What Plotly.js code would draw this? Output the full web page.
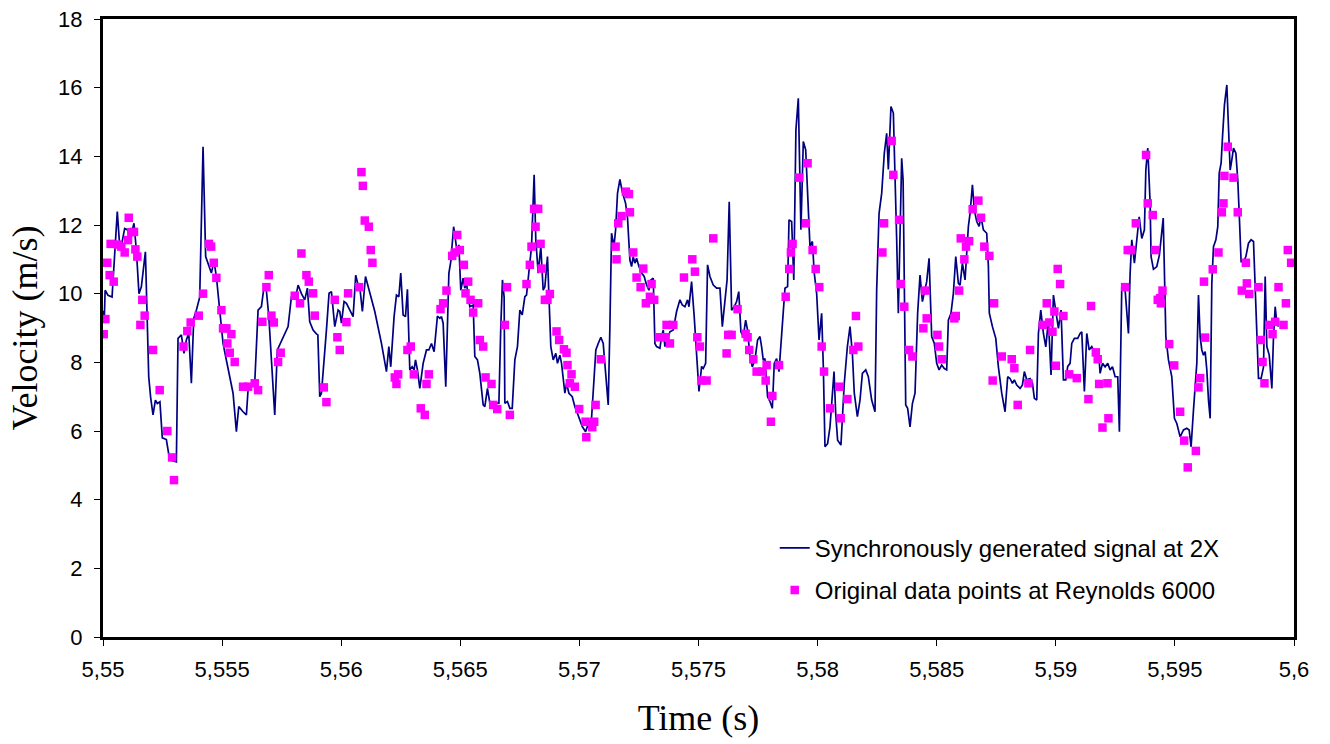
<!DOCTYPE html>
<html>
<head>
<meta charset="utf-8">
<script src="https://cdn.plot.ly/plotly-3.0.1.min.js"></script>
<style>
html,body{margin:0;padding:0;background:#fff;}
#chart{width:1330px;height:744px;}
</style>
</head>
<body>
<div id="chart"></div>
<script>
// Synchronously generated signal at 2X (time in s, velocity in m/s)
const signalTime = [
5.55000,5.55005,5.55009,5.55021,5.55038,5.55060,5.55070,5.55080,5.55091,5.55105,5.55112,5.55130,5.55140,5.55151,5.55161,5.55178,5.55192,5.55200,5.55210,5.55220,
5.55228,5.55239,5.55249,5.55266,5.55280,5.55308,5.55315,5.55329,5.55340,5.55350,5.55360,5.55371,5.55381,5.55392,5.55406,5.55420,5.55431,5.55448,5.55455,5.55466,
5.55476,5.55490,5.55504,5.55518,5.55532,5.55546,5.55560,5.55570,5.55588,5.55602,5.55609,5.55623,5.55637,5.55651,5.55665,5.55676,5.55683,5.55696,5.55721,5.55732,
5.55756,5.55777,5.55791,5.55812,5.55819,5.55833,5.55847,5.55858,5.55868,5.55882,5.55896,5.55902,5.55910,5.55917,5.55938,5.55949,5.55959,5.55973,5.55987,5.55994,
5.56001,5.56012,5.56022,5.56036,5.56050,5.56061,5.56071,5.56078,5.56089,5.56102,5.56141,5.56169,5.56190,5.56200,5.56208,5.56222,5.56232,5.56242,5.56250,5.56260,
5.56270,5.56278,5.56288,5.56298,5.56306,5.56312,5.56320,5.56330,5.56344,5.56358,5.56368,5.56379,5.56390,5.56404,5.56414,5.56421,5.56428,5.56439,5.56452,5.56460,
5.56472,5.56480,5.56487,5.56494,5.56502,5.56512,5.56519,5.56526,5.56540,5.56554,5.56561,5.56572,5.56582,5.56596,5.56603,5.56614,5.56624,5.56645,5.56662,5.56670,
5.56677,5.56684,5.56687,5.56698,5.56708,5.56718,5.56729,5.56740,5.56750,5.56760,5.56771,5.56778,5.56785,5.56792,5.56799,5.56810,5.56817,5.56827,5.56838,5.56848,
5.56855,5.56866,5.56880,5.56890,5.56901,5.56908,5.56918,5.56925,5.56939,5.56946,5.56956,5.56970,5.56981,5.56992,5.57012,5.57026,5.57037,5.57051,5.57062,5.57069,
5.57079,5.57090,5.57100,5.57111,5.57121,5.57128,5.57135,5.57145,5.57152,5.57160,5.57170,5.57180,5.57194,5.57202,5.57212,5.57219,5.57226,5.57233,5.57240,5.57250,
5.57261,5.57272,5.57282,5.57292,5.57300,5.57310,5.57317,5.57324,5.57338,5.57345,5.57352,5.57359,5.57369,5.57380,5.57394,5.57408,5.57422,5.57432,5.57443,5.57454,
5.57460,5.57471,5.57482,5.57492,5.57502,5.57513,5.57520,5.57530,5.57538,5.57548,5.57562,5.57576,5.57590,5.57600,5.57611,5.57620,5.57629,5.57639,5.57650,5.57660,
5.57669,5.57678,5.57688,5.57698,5.57706,5.57716,5.57726,5.57737,5.57748,5.57758,5.57765,5.57772,5.57779,5.57790,5.57800,5.57810,5.57818,5.57828,5.57838,5.57846,
5.57856,5.57863,5.57874,5.57880,5.57891,5.57900,5.57909,5.57919,5.57930,5.57940,5.57950,5.57961,5.57968,5.57978,5.57986,5.57996,5.58006,5.58017,5.58024,5.58031,
5.58042,5.58052,5.58059,5.58069,5.58076,5.58084,5.58098,5.58112,5.58125,5.58136,5.58146,5.58154,5.58167,5.58178,5.58188,5.58202,5.58213,5.58227,5.58241,5.58248,
5.58258,5.58269,5.58280,5.58290,5.58297,5.58308,5.58318,5.58325,5.58332,5.58339,5.58346,5.58353,5.58359,5.58364,5.58370,5.58378,5.58388,5.58398,5.58409,5.58420,
5.58430,5.58440,5.58448,5.58458,5.58468,5.58479,5.58490,5.58500,5.58510,5.58521,5.58532,5.58542,5.58549,5.58560,5.58570,5.58580,5.58591,5.58598,5.58608,5.58619,
5.58626,5.58633,5.58640,5.58650,5.58658,5.58668,5.58678,5.58686,5.58696,5.58710,5.58717,5.58721,5.58734,5.58748,5.58759,5.58773,5.58787,5.58798,5.58808,5.58818,
5.58826,5.58836,5.58850,5.58860,5.58868,5.58878,5.58892,5.58902,5.58910,5.58920,5.58927,5.58937,5.58948,5.58958,5.58969,5.58980,5.58990,5.59000,5.59011,5.59022,
5.59032,5.59042,5.59050,5.59060,5.59067,5.59078,5.59092,5.59102,5.59109,5.59120,5.59130,5.59140,5.59151,5.59165,5.59179,5.59186,5.59196,5.59207,5.59218,5.59228,
5.59238,5.59249,5.59260,5.59267,5.59277,5.59291,5.59305,5.59312,5.59319,5.59330,5.59340,5.59350,5.59361,5.59372,5.59378,5.59386,5.59396,5.59400,5.59410,5.59424,
5.59435,5.59442,5.59451,5.59462,5.59473,5.59487,5.59498,5.59508,5.59522,5.59536,5.59550,5.59560,5.59568,5.59578,5.59585,5.59592,5.59599,5.59606,5.59613,5.59620,
5.59627,5.59634,5.59641,5.59648,5.59655,5.59662,5.59672,5.59680,5.59686,5.59694,5.59700,5.59708,5.59718,5.59725,5.59732,5.59739,5.59746,5.59756,5.59764,5.59770,
5.59778,5.59788,5.59798,5.59809,5.59820,5.59830,5.59837,5.59844,5.59851,5.59862,5.59872,5.59879,5.59886,5.59896,5.59907,5.59914,5.59921,5.59928,5.59935
];
const signalVelocity = [
9.5,9.15,10.1,9.95,9.9,12.39,11.4,11.5,11.9,11.85,11.56,12.05,11.27,10.0,10.2,11.22,7.58,6.98,6.47,6.9,
6.8,6.85,5.8,5.75,5.16,5.1,8.7,8.8,8.26,8.65,8.85,7.39,9.28,9.52,9.9,14.28,11.08,10.69,10.6,10.95,
10.5,9.52,8.55,8.06,7.58,7.1,5.98,6.71,6.56,6.47,7.2,7.3,7.4,9.52,9.62,10.2,10.3,9.35,6.47,8.36,
8.74,9.04,9.91,10.01,10.25,10.0,9.82,10.16,9.18,8.94,8.83,8.8,7.0,7.1,8.94,10.01,10.06,9.04,9.52,9.48,
9.14,9.77,9.72,9.52,9.33,10.54,10.25,10.2,9.48,10.5,9.48,8.55,7.73,8.46,7.87,9.33,9.96,9.91,10.6,9.38,
9.33,10.13,7.78,7.87,7.78,8.07,7.78,7.24,7.97,8.36,8.36,8.55,8.31,9.35,9.28,9.33,9.14,7.29,10.59,10.93,
11.95,11.56,11.18,11.42,10.1,10.45,10.16,10.3,9.62,9.67,8.17,8.07,7.68,6.76,6.71,7.24,6.81,6.81,6.81,9.04,
10.4,9.9,6.81,6.86,6.66,6.66,8.07,8.46,9.52,9.38,9.91,9.96,10.39,10.84,11.37,13.46,11.57,10.6,11.37,10.1,
10.2,11.08,8.46,8.07,8.26,7.97,8.21,7.97,7.1,7.39,7.1,7.0,6.71,6.51,6.13,5.98,6.2,6.37,7.68,8.36,
8.55,8.73,8.55,7.58,6.76,9.04,11.76,11.37,11.86,12.92,13.33,12.97,12.63,12.2,10.98,10.79,11.08,10.89,11.03,10.79,
10.6,10.5,10.25,10.1,10.4,10.45,8.55,8.46,8.41,8.75,8.94,8.46,8.7,8.89,8.94,9.48,9.82,9.67,9.62,9.82,
9.62,10.35,9.33,8.17,7.15,7.88,7.82,7.97,10.84,10.5,10.25,10.16,10.16,9.04,9.72,10.4,12.68,9.52,9.62,9.77,
10.06,8.89,8.75,9.23,8.94,8.16,7.87,8.07,8.65,8.75,8.45,8.06,8.11,7.0,6.86,6.66,7.97,8.11,7.73,8.55,
9.62,10.16,10.21,12.15,12.1,10.4,14.77,15.69,11.86,14.43,14.19,12.34,11.37,11.52,10.6,10.01,8.65,9.43,7.87,5.54,
5.63,6.12,6.9,7.73,6.51,5.73,5.59,7.39,8.46,9.04,8.26,7.1,6.42,6.9,7.68,7.78,7.58,6.9,6.56,10.1,
12.34,12.92,14.09,14.67,13.62,15.45,15.26,13.6,11.57,9.43,12.34,13.94,13.3,10.4,6.76,6.66,6.12,6.8,7.1,9.43,
10.54,9.77,10.01,10.35,11.03,8.75,8.55,7.97,7.78,7.92,7.82,7.78,9.23,9.43,10.01,11.08,10.3,10.25,10.89,10.4,
11.18,11.96,12.34,13.17,12.44,12.1,11.96,12.24,11.86,11.76,10.79,9.43,9.04,8.7,7.87,7.1,6.56,7.58,7.53,7.39,
7.49,7.34,7.24,7.34,7.73,7.49,7.53,7.39,6.95,6.9,8.84,9.52,8.84,8.45,9.23,7.63,9.96,9.43,8.99,9.52,
7.49,7.49,7.88,7.97,8.55,8.7,8.7,8.84,8.89,7.15,8.84,8.36,8.46,8.26,8.36,7.68,7.97,7.87,7.97,7.78,
7.87,7.58,7.58,5.98,10.2,10.1,8.84,10.59,11.57,10.89,11.66,12.24,11.61,11.86,13.6,14.24,12.64,11.08,10.71,10.79,
11.13,11.66,12.2,8.75,8.07,7.58,6.37,6.22,5.83,6.03,6.08,6.03,5.54,6.61,7.19,7.97,9.96,8.75,8.36,8.21,
8.31,7.78,6.9,6.37,10.3,11.37,11.57,11.95,13.51,13.8,14.58,15.5,16.08,15.06,13.6,13.9,14.24,14.09,13.31,12.34,
10.93,10.93,11.08,11.47,11.57,11.52,10.3,8.75,7.53,7.53,7.87,10.5,8.46,8.21,7.24,8.75,9.62,9.14,9.04
];

// Original data points at Reynolds 6000
const pointTime = [
5.55003,5.55010,5.55018,5.55028,5.55032,5.55045,5.55063,5.55077,5.55091,5.55105,5.55108,5.55119,5.55130,5.55136,5.55144,5.55157,5.55165,5.55175,5.55210,5.55238,
5.55270,5.55290,5.55298,5.55338,5.55354,5.55368,5.55402,5.55420,5.55445,5.55454,5.55465,5.55476,5.55497,5.55504,5.55518,5.55522,5.55532,5.55539,5.55553,5.55588,
5.55609,5.55637,5.55651,5.55669,5.55686,5.55696,5.55707,5.55717,5.55735,5.55746,5.55805,5.55827,5.55833,5.55854,5.55864,5.55882,5.55889,5.55927,5.55938,5.55973,
5.55984,5.55994,5.56022,5.56029,5.56075,5.56085,5.56091,5.56099,5.56116,5.56124,5.56131,5.56225,5.56232,5.56239,5.56278,5.56292,5.56305,5.56334,5.56351,5.56358,
5.56368,5.56417,5.56428,5.56442,5.56466,5.56477,5.56487,5.56498,5.56515,5.56522,5.56533,5.56543,5.56554,5.56575,5.56582,5.56596,5.56606,5.56631,5.56638,5.56655,
5.56687,5.56696,5.56708,5.56778,5.56792,5.56799,5.56810,5.56816,5.56827,5.56837,5.56841,5.56855,5.56866,5.56876,5.56904,5.56915,5.56935,5.56946,5.56950,5.56960,
5.56967,5.56981,5.56999,5.57026,5.57029,5.57054,5.57062,5.57068,5.57090,5.57152,5.57156,5.57163,5.57177,5.57195,5.57208,5.57212,5.57226,5.57240,5.57257,5.57268,
5.57279,5.57296,5.57303,5.57314,5.57334,5.57362,5.57366,5.57380,5.57394,5.57439,5.57474,5.57485,5.57495,5.57506,5.57513,5.57534,5.57562,5.57618,5.57625,5.57639,
5.57664,5.57698,5.57706,5.57713,5.57730,5.57744,5.57768,5.57782,5.57786,5.57804,5.57810,5.57838,5.57866,5.57881,5.57888,5.57895,5.57923,5.57951,5.57958,5.57979,
5.57992,5.58007,5.58017,5.58027,5.58052,5.58091,5.58097,5.58125,5.58150,5.58161,5.58171,5.58272,5.58279,5.58311,5.58318,5.58342,5.58349,5.58364,5.58384,5.58398,
5.58444,5.58451,5.58458,5.58503,5.58510,5.58521,5.58574,5.58580,5.58594,5.58601,5.58616,5.58623,5.58636,5.58651,5.58675,5.58686,5.58700,5.58721,5.58735,5.58741,
5.58773,5.58815,5.58826,5.58840,5.58885,5.58892,5.58945,5.58962,5.58973,5.58986,5.58994,5.59000,5.59008,5.59018,5.59032,5.59056,5.59088,5.59137,5.59148,5.59168,
5.59176,5.59182,5.59196,5.59217,5.59221,5.59291,5.59302,5.59316,5.59336,5.59379,5.59386,5.59407,5.59417,5.59428,5.59438,5.59441,5.59448,5.59476,5.59497,5.59522,
5.59539,5.59554,5.59588,5.59599,5.59606,5.59622,5.59627,5.59659,5.59683,5.59697,5.59704,5.59708,5.59722,5.59746,5.59764,5.59781,5.59798,5.59802,5.59812,5.59851,
5.59861,5.59868,5.59876,5.59896,5.59910,5.59921,5.59935,5.59956,5.59966,5.59974,5.59988
];
const pointVelocity = [
8.82,9.26,10.9,10.54,11.45,10.35,11.43,11.37,11.2,11.56,12.21,11.79,11.8,11.29,11.08,9.09,9.82,9.36,8.36,7.19,
6.0,5.23,4.57,8.46,8.91,9.16,9.36,10.0,11.45,11.37,10.9,10.46,9.52,8.99,8.99,8.55,8.28,8.82,8.01,7.29,
7.29,7.39,7.19,9.18,10.19,10.54,9.36,9.16,8.01,8.28,9.94,9.72,11.17,10.54,10.35,10.01,9.36,7.27,6.84,9.82,
8.73,8.36,9.17,10.01,10.19,13.54,13.14,12.13,11.95,11.27,10.9,7.56,7.37,7.65,8.36,8.46,7.65,6.66,6.47,7.37,
7.65,9.55,9.72,10.09,11.1,11.2,11.71,11.27,10.84,10.01,10.35,9.82,9.45,9.72,8.65,8.46,7.56,7.37,6.76,6.64,
9.09,10.19,6.47,10.28,10.84,11.37,12.47,11.95,12.47,11.45,10.73,9.82,9.82,9.99,8.9,8.65,8.38,8.28,7.92,7.39,
7.65,7.29,6.64,6.27,5.82,6.11,6.27,6.76,8.09,11.37,11.0,12.05,12.26,12.97,12.9,12.37,11.2,10.47,10.19,10.73,
9.72,9.91,10.28,9.82,8.73,8.73,9.09,8.55,9.09,10.47,11.0,10.64,8.73,8.46,7.47,7.47,11.61,8.26,8.8,8.8,
9.55,8.83,8.73,8.36,8.09,7.73,7.73,7.47,7.92,6.27,7.02,7.92,9.91,10.72,11.2,11.45,13.38,12.05,13.8,11.27,
10.72,10.19,8.46,7.73,6.66,7.29,6.37,6.93,8.36,9.35,8.46,11.2,12.05,14.45,13.46,12.15,10.28,9.62,8.36,8.17,
8.99,10.09,9.28,8.8,8.46,8.09,9.28,9.35,10.09,11.61,11.0,11.37,11.53,12.46,12.71,12.21,11.37,11.1,7.47,9.72,
8.17,8.09,7.83,6.76,7.39,8.36,9.09,9.72,9.16,8.89,9.48,7.9,10.72,10.28,9.35,7.65,7.54,6.93,9.64,8.29,
8.09,7.37,6.1,7.39,6.37,10.19,11.27,11.27,12.05,14.04,12.63,12.29,11.27,9.82,9.87,9.72,10.09,8.53,7.91,6.56,
5.72,4.94,5.42,7.27,7.54,10.35,8.72,10.71,11.2,12.37,12.63,13.43,14.28,13.38,12.37,10.09,10.9,10.3,9.99,10.19,
8.65,8.01,7.39,9.09,8.82,9.18,10.19,9.09,9.72,11.27,10.9
];

const xTickValues = [5.55,5.555,5.56,5.565,5.57,5.575,5.58,5.585,5.59,5.595,5.6];
const xTickLabels = ["5,55","5,555","5,56","5,565","5,57","5,575","5,58","5,585","5,59","5,595","5,6"];
const yTickValues = [0,2,4,6,8,10,12,14,16,18];
const yTickLabels = ["0","2","4","6","8","10","12","14","16","18"];

const sans = "Liberation Sans, Arial, sans-serif";
const serif = "Liberation Serif, Times New Roman, serif";

const traces = [
  {
    x: signalTime, y: signalVelocity,
    type: "scatter", mode: "lines",
    name: "Synchronously generated signal at 2X",
    legendgroup: "a",
    line: {color: "#000080", width: 1.7},
    hoverinfo: "x+y"
  },
  {
    x: pointTime, y: pointVelocity,
    type: "scatter", mode: "markers",
    name: "Original data points at Reynolds 6000",
    legendgroup: "b",
    marker: {symbol: "square", size: 8.5, color: "#FF00FF", line: {width: 0}},
    hoverinfo: "x+y"
  }
];

const layout = {
  width: 1330, height: 744,
  margin: {l: 103, r: 36, t: 19, b: 107},
  paper_bgcolor: "#ffffff", plot_bgcolor: "#ffffff",
  font: {family: sans, color: "#000000", size: 22},
  showlegend: true,
  legend: {
    x: 0.564, y: 0.18, xanchor: "left", yanchor: "top",
    bgcolor: "rgba(0,0,0,0)", borderwidth: 0,
    font: {family: sans, size: 24, color: "#000000"},
    traceorder: "grouped", tracegroupgap: 8
  },
  xaxis: {
    range: [5.55, 5.6], autorange: false,
    tickmode: "array", tickvals: xTickValues, ticktext: xTickLabels,
    ticks: "outside", ticklen: 6, tickwidth: 1, tickcolor: "#000000",
    ticklabelstandoff: 5,
    showline: true, linecolor: "#000000", linewidth: 3, mirror: true,
    showgrid: false, zeroline: false,
    tickfont: {family: sans, size: 22, color: "#000000"},
    title: {text: "Time (s)", font: {family: serif, size: 36, color: "#000000"}, standoff: 24},
    automargin: false
  },
  yaxis: {
    range: [0, 18], autorange: false,
    tickmode: "array", tickvals: yTickValues, ticktext: yTickLabels,
    ticks: "outside", ticklen: 6, tickwidth: 1, tickcolor: "#000000",
    ticklabelstandoff: 7,
    showline: true, linecolor: "#000000", linewidth: 3, mirror: true,
    showgrid: false, zeroline: false,
    tickfont: {family: sans, size: 22, color: "#000000"},
    title: {text: "Velocity (m/s)", font: {family: serif, size: 36, color: "#000000"}, standoff: 10},
    automargin: false
  }
};

Plotly.newPlot("chart", traces, layout, {displayModeBar: false, staticPlot: true});
</script>
</body>
</html>
